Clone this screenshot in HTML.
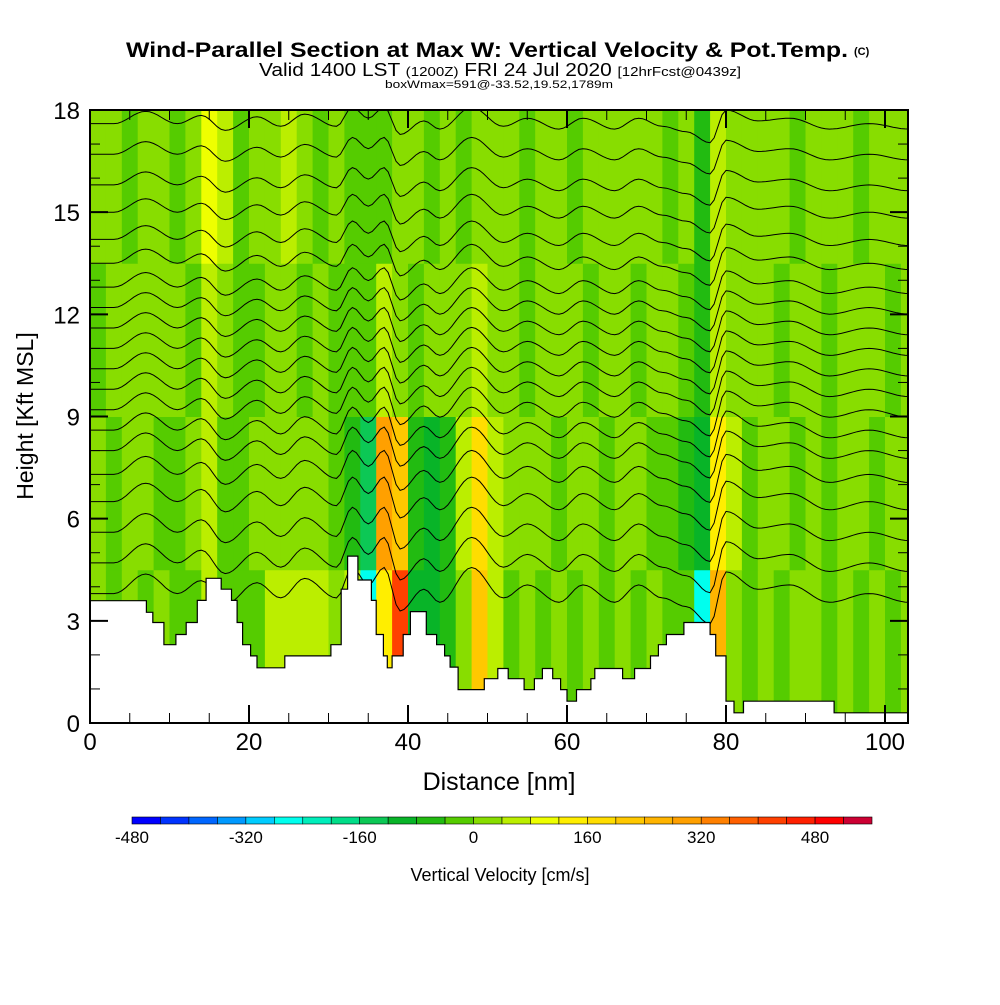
<!DOCTYPE html>
<html><head><meta charset="utf-8"><style>
body{margin:0;background:#fff;}
svg text{font-family:"Liberation Sans",sans-serif;}
</style></head><body>
<svg id="chart" xmlns="http://www.w3.org/2000/svg" width="1000" height="1000" viewBox="0 0 1000 1000">
<rect width="1000" height="1000" fill="#fff"/>
<text x="126" y="57" font-size="21" font-weight="bold" textLength="722" lengthAdjust="spacingAndGlyphs">Wind-Parallel Section at Max W: Vertical Velocity &amp; Pot.Temp.</text>
<text x="854" y="55" font-size="11" font-weight="bold">(C)</text>
<text x="259" y="76" font-size="18" textLength="482" lengthAdjust="spacingAndGlyphs">Valid 1400 LST <tspan font-size="13">(1200Z)</tspan> FRI 24 Jul 2020 <tspan font-size="13">[12hrFcst@0439z]</tspan></text>
<text x="385" y="88" font-size="11" textLength="228" lengthAdjust="spacingAndGlyphs">boxWmax=591@-33.52,19.52,1789m</text>
<defs><clipPath id="plotclip"><rect x="90" y="110" width="818" height="613"/></clipPath></defs>
<g id="field" clip-path="url(#plotclip)"></g>
<g id="contours" clip-path="url(#plotclip)"></g>
<g id="terrain" clip-path="url(#plotclip)"></g>
<g id="axes"></g>
<g id="colorbar"></g>
<text x="499" y="790" font-size="25" text-anchor="middle">Distance [nm]</text>
<text transform="translate(33,416) rotate(-90)" font-size="23" text-anchor="middle">Height [Kft MSL]</text>
<text x="500" y="881" font-size="18" text-anchor="middle">Vertical Velocity [cm/s]</text>
</svg>
<script>
// ---- data ----
const colStarts = [0,2,4,6,8,10,12,14,16,18,20,22,24,26,28,30,32,34,36,38,40,42,44,46,48,50,52,54,56,58,60,62,64,66,68,70,72,74,76,78,80,82,84,86,88,90,92,94,96,98,100,102];
const wLow  = [20,-20,20,-20,20,-20,-20,60,-20,-20,-20,60,60,60,60,20,60,-260,140,420,-100,-100,-60,20,220,60,-20,20,-20,20,-20,20,-20,20,-20,20,-20,-20,-260,260,20,-20,20,-20,20,20,-20,20,-20,20,-20,20];
const wMid1 = [20,-20,20,20,-20,-20,20,60,-20,-20,20,20,20,20,20,-20,-60,-140,300,220,-60,-100,-60,60,180,60,20,20,20,-20,20,20,-20,20,20,-20,-20,-60,-100,140,60,-20,20,20,-20,20,-20,20,20,-20,20,20];
const wMid2 = [-20,20,20,20,20,20,-20,60,20,-20,-20,20,20,-20,20,-20,-20,-20,60,20,-20,20,20,20,60,20,20,-20,20,20,20,-20,20,20,-20,20,20,-20,-60,60,20,20,20,-20,20,20,-20,20,20,20,-20,20];
const wTop  = [20,20,-20,20,20,-20,20,100,60,-20,20,20,60,20,-20,20,-20,-20,-20,20,20,-20,20,-20,20,20,20,-20,20,20,-20,20,20,20,20,20,-20,20,-60,60,20,20,20,20,-20,20,20,20,-20,20,20,20];
const bandTops = [4.5,9,13.5,18];
const terrainX = [0,7.1,7.9,9.3,10.8,12.1,13.5,14.6,16.5,17.8,18.5,19.2,20.2,21,24.5,30.3,31.6,32.4,33.7,35.4,36,36.9,37.4,38,39.4,40.3,42.3,43.6,44.6,45.3,46.3,49.6,51.3,52.6,54.6,55.9,56.9,58.2,59.2,60,61.2,63,63.5,67,68.5,70.5,71.5,72.5,74.7,78,78.7,80,81,82.2,93.6,103];
const terrainH = [3.59,3.25,2.95,2.3,2.6,2.95,3.6,4.25,3.93,3.6,2.95,2.3,1.97,1.62,1.97,2.3,3.93,4.9,4.2,3.6,2.6,1.97,1.62,1.97,2.6,3.27,2.6,2.3,1.97,1.64,0.98,1.3,1.6,1.3,0.98,1.3,1.6,1.3,0.98,0.64,0.98,1.3,1.6,1.3,1.6,1.97,2.3,2.6,2.95,2.6,1.97,0.64,0.3,0.64,0.3,0.3];
const contourBase = [17.6,16.7,15.8,15.0,14.2,13.5,12.8,12.2,11.6,11.0,10.4,9.8,9.2,8.6,8.0,7.3,6.5,5.6,4.7,3.8];
const dispX = [0,3,7,11,14,17,21,24,27,31,33,35,37,39,42,44,48,52,55,59,62,66,69,72,75,78,80,84,88,93,98,103];
const dispH = [0,0,0.45,0,0.3,-0.25,0.25,-0.1,0.35,-0.1,0.6,0.2,0.6,-0.4,0.1,-0.2,0.6,-0.1,0.2,-0.2,0.2,-0.2,0.2,-0.1,-0.3,-0.7,0.5,0.1,0.2,-0.2,0,-0.2];
const xTickMajor = [0,20,40,60,80,100];
const yTickMajor = [0,3,6,9,12,15,18];
const cbColors = ["#0000ff","#0033ff","#0066ff","#0099ff","#00ccff","#00ffee","#00eebb","#00dd88","#0cc855","#08b428","#22bb11","#55cc00","#88dd00","#bbee00","#eeff00","#ffee00","#ffdd00","#ffc800","#ffb400","#ffa000","#ff8000","#ff6000","#ff4000","#ff2000","#ff0000","#cc0033"];
const cbTicks = [-480,-320,-160,0,160,320,480];

// ---- scales ----
const X0=90, X1=908, Y0=723, Y1=110;
const xs = nm => X0 + nm*7.95;
const ys = k => Y0 - k*(Y0-Y1)/18;
const colorOf = w => cbColors[Math.max(0,Math.min(25,Math.floor((w+480)/40)))];
const NS="http://www.w3.org/2000/svg";
function mk(tag, attrs, parent){const e=document.createElementNS(NS,tag);for(const k in attrs)e.setAttribute(k,attrs[k]);parent.appendChild(e);return e;}

// field
const field=document.getElementById('field');
const bands=[wLow,wMid1,wMid2,wTop];
bands.forEach((arr,b)=>{
  const bot = b===0?0:bandTops[b-1], top=bandTops[b];
  colStarts.forEach((c,i)=>{
    const r=mk('rect',{x:xs(c),y:ys(top),width:xs(c+2)-xs(c)+0.5,height:ys(bot)-ys(top)+0.5,fill:colorOf(arr[i])},field);
    
    
  });
});

// contours (smooth cosine interpolation between displacement points)
const cg=document.getElementById('contours');
function dispAt(x){for(let i=0;i<dispX.length-1;i++){if(x>=dispX[i]&&x<=dispX[i+1]){const t=(x-dispX[i])/(dispX[i+1]-dispX[i]);const s=(1-Math.cos(Math.PI*t))/2;return dispH[i]+s*(dispH[i+1]-dispH[i]);}}return dispH[dispH.length-1];}
contourBase.forEach((b,li)=>{
  let d='';
  const amp=0.8+0.5*li/contourBase.length;
  for(let x=0;x<=103;x+=0.5){
    d+=(x?'L':'M')+xs(x).toFixed(1)+','+ys(b+dispAt(x)*amp).toFixed(1);
  }
  const p=mk('path',{d:d,fill:'none',stroke:'#000','stroke-width':1},cg);
  
  
});

// terrain
const tg=document.getElementById('terrain');
let td='M'+xs(0)+','+Y0;
terrainX.forEach((x,i)=>{
  if(i<terrainH.length){const xn = i+1<terrainX.length?terrainX[i+1]:103;
    td+='L'+xs(x).toFixed(1)+','+ys(terrainH[i]).toFixed(1)+'L'+xs(xn).toFixed(1)+','+ys(terrainH[i]).toFixed(1);}
});
td+='L'+xs(103)+','+Y0+'Z';
const tp=mk('path',{d:td,fill:'#fff',stroke:'#000','stroke-width':1.2},tg);



// axes
const ax=document.getElementById('axes');
const fr=mk('rect',{x:X0,y:Y1,width:X1-X0,height:Y0-Y1,fill:'none',stroke:'#000','stroke-width':2},ax);


for(let nm=0;nm<=102;nm+=5){
  const maj=nm%20===0, L=maj?18:10, x=xs(nm);
  mk('line',{x1:x,y1:Y0,x2:x,y2:Y0-L,stroke:'#000','stroke-width':maj?2:1},ax);
  mk('line',{x1:x,y1:Y1,x2:x,y2:Y1+L,stroke:'#000','stroke-width':maj?2:1},ax);
}
xTickMajor.forEach(v=>{
  const t=mk('text',{x:xs(v),y:Y0+27,'font-size':24,'text-anchor':'middle'},ax);
  t.textContent=v;
  
  
});
for(let k=0;k<=18;k++){
  const maj=k%3===0, L=maj?18:10, y=ys(k);
  mk('line',{x1:X0,y1:y,x2:X0+L,y2:y,stroke:'#000','stroke-width':maj?2:1},ax);
  mk('line',{x1:X1,y1:y,x2:X1-L,y2:y,stroke:'#000','stroke-width':maj?2:1},ax);
}
yTickMajor.forEach(v=>{
  const t=mk('text',{x:80,y:ys(v)+9,'font-size':24,'text-anchor':'end'},ax);
  t.textContent=v;
  
  
});

// colorbar
const cb=document.getElementById('colorbar');
const cbX=132, cbW=740/26;
cbColors.forEach((c,i)=>{
  const r=mk('rect',{x:cbX+i*cbW,y:817,width:cbW,height:7,fill:c,stroke:'#000','stroke-width':0.6},cb);
  
  
});
cbTicks.forEach(v=>{
  const t=mk('text',{x:cbX+(v+480)/40*cbW,y:843,'font-size':17,'text-anchor':'middle'},cb);
  t.textContent=v;
  
  
});
</script>
</body></html>
